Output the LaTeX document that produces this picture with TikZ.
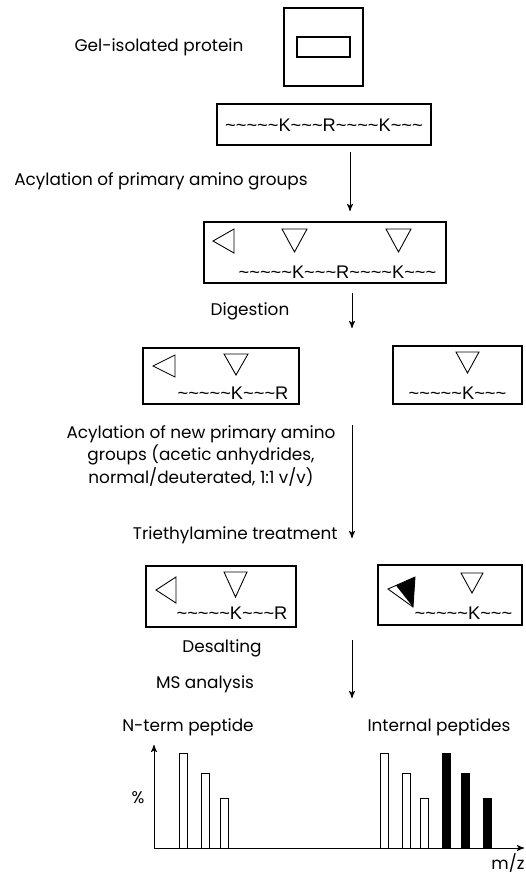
\documentclass[tikz,border=0pt]{standalone}
\usepackage{fontspec}
\setmainfont{Poppins}
\newfontfamily\seqfont{Liberation Sans}
\usepackage{tikz}
\usetikzlibrary{arrows}

\newcommand{\tld}{\textasciitilde}
\newcommand{\downtri}[4]{\draw[tri] (#1,#2) -- ++(#3,0) -- ++(-#3/2,#4) -- cycle;}
\newcommand{\lefttri}[4]{\draw[tri] (#1,#2) -- ++(0,#4) -- ++(-#3,-#4/2) -- cycle;}

\begin{document}
\begin{tikzpicture}[x=0.02cm, y=-0.02cm, >=stealth', line width=0.6pt]
  \tikzstyle{box}=[draw, inner sep=0pt]
  \tikzstyle{stagetext}=[inner sep=0pt, font=\fontsize{9.6}{13}\selectfont]
  \tikzstyle{seqtext}=[inner sep=0pt, font=\seqfont\fontsize{10.4}{12}\selectfont]
  \tikzstyle{tri}=[draw, fill=white, line width=0.5pt]
  \tikzstyle{flow}=[->, line width=0.5pt]
  \tikzstyle{openbar}=[draw, fill=white, line width=0.5pt]
  \tikzstyle{fullbar}=[draw, fill=black, line width=0.5pt]

  \useasboundingbox (0,0) rectangle (525,873);

  % gel
  \node[stagetext] (gellab) at (159,47) {Gel-isolated protein};
  \node[box, minimum width=1.58cm, minimum height=1.56cm] (gel) at (323.5,47) {};
  \node[box, minimum width=1.06cm, minimum height=0.40cm] (band) at (gel.center) {};

  % intact protein
  \node[box, minimum width=4.28cm, minimum height=0.82cm] (prot) at (324,124.5) {};
  \node[seqtext] (protseq) at (324,125) {\tld\tld\tld\tld\tld K\tld\tld\tld R\tld\tld\tld\tld K\tld\tld\tld};

  \node[stagetext] (acyllab) at (161,181) {Acylation of primary amino groups};
  \coordinate (a1s) at (350,152);
  \coordinate (a1e) at (350,211);
  \draw[flow] (a1s) -- (a1e);

  % acylated protein
  \node[box, minimum width=4.84cm, minimum height=1.22cm] (acyl) at (325,252.5) {};
  \lefttri{234}{229}{21}{24}
  \downtri{282}{229}{25}{23}
  \downtri{386}{229}{25}{23}
  \node[seqtext] (acylseq) at (337.5,272) {\tld\tld\tld\tld\tld K\tld\tld\tld R\tld\tld\tld\tld K\tld\tld\tld};

  \node[stagetext] (diglab) at (250,311) {Digestion};
  \coordinate (a2s) at (352,293);
  \coordinate (a2e) at (352,328);
  \draw[flow] (a2s) -- (a2e);

  % peptides after digestion
  \node[box, minimum width=3.12cm, minimum height=1.12cm] (ntpep) at (221,376) {};
  \lefttri{175}{355}{22}{22}
  \downtri{224}{354}{24}{21}
  \node[seqtext] (ntseq) at (233,393) {\tld\tld\tld\tld\tld K\tld\tld\tld R};

  \node[box, minimum width=2.58cm, minimum height=1.16cm] (intpep) at (457.5,375) {};
  \downtri{456}{352}{23}{21}
  \node[seqtext] (intseq) at (457.5,393) {\tld\tld\tld\tld\tld K\tld\tld\tld};

  \node[stagetext, align=center] (newlab) at (201,456)
    {Acylation of new primary amino\\groups (acetic anhydrides,\\normal/deuterated, 1:1 v/v)};
  \node[stagetext, anchor=east] (tealab) at (338,535) {Triethylamine treatment};
  \coordinate (a3s) at (352,425);
  \coordinate (a3e) at (352,538);
  \draw[flow] (a3s) -- (a3e);

  % labelled peptides
  \node[box, minimum width=3.00cm, minimum height=1.22cm] (ntlab) at (221,596.5) {};
  \lefttri{176}{577}{20}{26}
  \downtri{224}{572}{23}{25}
  \node[seqtext] (ntlabseq) at (232,613) {\tld\tld\tld\tld\tld K\tld\tld\tld R};

  \node[box, minimum width=2.88cm, minimum height=1.20cm] (intlab) at (450,595) {};
  \draw[tri] (388,589) -- (415,577) -- (413,607) -- cycle;
  \fill (396,585.5) -- (415,577) -- (413,607) -- cycle;
  \downtri{461}{573}{22}{20}
  \node[seqtext] (intlabseq) at (463.5,613) {\tld\tld\tld\tld\tld K\tld\tld\tld};

  \node[stagetext] (deslab) at (222,648) {Desalting};
  \node[stagetext] (mslab) at (205,684) {MS analysis};
  \coordinate (a4s) at (352,640);
  \coordinate (a4e) at (352,698);
  \draw[flow] (a4s) -- (a4e);

  % spectrum
  \node[stagetext] (ntspec) at (188,727) {N-term peptide};
  \node[stagetext] (intspec) at (439,727) {Internal peptides};
  \coordinate (orig) at (154,848);
  \coordinate (ytip) at (154,745);
  \coordinate (xtip) at (524,848);
  \draw[flow] (orig) -- (ytip);
  \draw[flow] (orig) -- (xtip);
  \node[stagetext] (ylab) at (138,798) {\%};
  \node[stagetext] (xlab) at (508,863) {m/z};

  \foreach \xa/\yt in {179/753, 201/773, 220/798, 380/753, 402/773, 420/798}
    \draw[openbar] (\xa,848) rectangle ({\xa+8},\yt);
  \foreach \xa/\yt in {442/753, 461/773, 483/798}
    \draw[fullbar] (\xa,848) rectangle ({\xa+8},\yt);
\end{tikzpicture}
\end{document}
